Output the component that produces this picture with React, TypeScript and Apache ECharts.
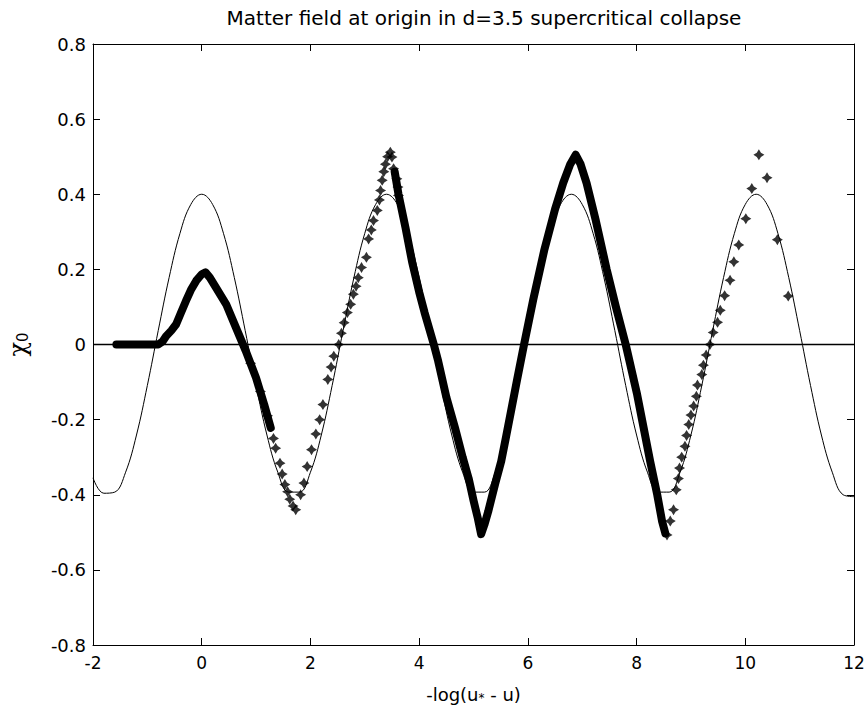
import React, { useEffect, useRef } from "react";
import * as echarts from "echarts";

const titleText = "Matter field at origin in d=3.5 supercritical collapse";
const xTicks = [-2, 0, 2, 4, 6, 8, 10, 12];
const yTicks = [-0.8, -0.6, -0.4, -0.2, 0, 0.2, 0.4, 0.6, 0.8];

// thin reference curve, sampled every 0.2 from -2 to 12
const curveX = [
  -2.0, -1.8, -1.6, -1.4, -1.2, -1.0, -0.8, -0.6, -0.4, -0.2,
  0.0, 0.2, 0.4, 0.6, 0.8, 1.0, 1.2, 1.4, 1.6, 1.8,
  2.0, 2.2, 2.4, 2.6, 2.8, 3.0, 3.2, 3.4, 3.6, 3.8,
  4.0, 4.2, 4.4, 4.6, 4.8, 5.0, 5.2, 5.4, 5.6, 5.8,
  6.0, 6.2, 6.4, 6.6, 6.8, 7.0, 7.2, 7.4, 7.6, 7.8,
  8.0, 8.2, 8.4, 8.6, 8.8, 9.0, 9.2, 9.4, 9.6, 9.8,
  10.0, 10.2, 10.4, 10.6, 10.8, 11.0, 11.2, 11.4, 11.6, 11.8,
  12.0,
];
const curveY = [
  -0.355, -0.396, -0.393, -0.340, -0.241, -0.109, 0.037, 0.178, 0.296, 0.373,
  0.400, 0.373, 0.296, 0.178, 0.037, -0.109, -0.241, -0.340, -0.393, -0.393,
  -0.340, -0.241, -0.109, 0.037, 0.178, 0.296, 0.373, 0.400, 0.373, 0.296,
  0.178, 0.037, -0.109, -0.241, -0.340, -0.393, -0.393, -0.340, -0.241, -0.109,
  0.037, 0.178, 0.296, 0.373, 0.400, 0.373, 0.296, 0.178, 0.037, -0.109,
  -0.241, -0.340, -0.393, -0.393, -0.340, -0.241, -0.109, 0.037, 0.178, 0.296,
  0.373, 0.400, 0.373, 0.296, 0.178, 0.037, -0.109, -0.241, -0.340, -0.400,
  -0.405,
];

// densely packed markers (drawn as a thick band)
const denseEarlyX = [-1.57, -0.80, -0.72, -0.65, -0.56, -0.47, -0.38, -0.29, -0.20, -0.10, 0.0, 0.07, 0.15, 0.26, 0.45, 0.63, 0.81, 1.0, 1.15, 1.27];
const denseEarlyY = [0.0, 0.0, 0.008, 0.023, 0.037, 0.054, 0.085, 0.116, 0.145, 0.170, 0.187, 0.192, 0.178, 0.152, 0.107, 0.045, -0.017, -0.089, -0.160, -0.222];

const denseMidX = [
  3.55, 3.62, 3.75, 3.87, 4.0, 4.1, 4.27, 4.35, 4.5, 4.66, 4.8, 4.91, 5.0, 5.08, 5.14,
  5.2, 5.27, 5.4, 5.51, 5.6, 5.69, 5.8, 5.93, 6.1, 6.3, 6.5, 6.65, 6.78, 6.88,
  6.97, 7.08, 7.25, 7.45, 7.62, 7.8, 8.01, 8.13, 8.25, 8.38, 8.47, 8.53,
];
const denseMidY = [
  0.46, 0.40, 0.31, 0.22, 0.14, 0.085, 0.0, -0.044, -0.14, -0.222, -0.30, -0.356, -0.415, -0.463, -0.505,
  -0.48, -0.445, -0.37, -0.311, -0.245, -0.178, -0.095, 0.0, 0.12, 0.25, 0.36, 0.43, 0.48, 0.505,
  0.48, 0.43, 0.33, 0.2, 0.1, 0.0, -0.133, -0.222, -0.311, -0.40, -0.471, -0.503,
];

// individually visible markers
const markerX = [
  0.9, 1.08, 1.21, 1.32, 1.36, 1.44, 1.48, 1.53, 1.58, 1.62, 1.68, 1.73,
  1.82, 1.88, 1.94, 2.02, 2.10, 2.17, 2.23, 2.32, 2.38, 2.43, 2.52, 2.57, 2.62, 2.68,
  2.74, 2.79, 2.84, 2.88, 2.94, 3.03, 3.07, 3.12, 3.16, 3.23, 3.27, 3.29, 3.32, 3.35,
  3.38, 3.42, 3.47, 3.50, 3.53, 3.59, 3.61, 3.62,
  8.56, 8.62, 8.68, 8.73, 8.77, 8.79, 8.83, 8.89, 8.92, 8.96, 9.0, 9.05, 9.1, 9.12,
  9.2, 9.23, 9.28, 9.35, 9.41, 9.49, 9.54, 9.62, 9.72, 9.79, 9.88, 10.01, 10.12,
  10.25, 10.40, 10.59, 10.79,
];
const markerY = [
  -0.05, -0.125, -0.19, -0.25, -0.276, -0.316, -0.345, -0.373, -0.392, -0.412, -0.43, -0.44,
  -0.40, -0.369, -0.325, -0.28, -0.238, -0.20, -0.16, -0.093, -0.06, -0.031, 0.0, 0.03, 0.058, 0.085,
  0.107, 0.134, 0.155, 0.178, 0.205, 0.232, 0.281, 0.305, 0.33, 0.357, 0.385, 0.41, 0.437, 0.46,
  0.48, 0.50, 0.512, 0.499, 0.468, 0.441, 0.419, 0.397,
  -0.507, -0.47, -0.44, -0.387, -0.357, -0.329, -0.30, -0.271, -0.242, -0.213, -0.188, -0.164, -0.138, -0.108,
  -0.08, -0.055, -0.028, 0.0, 0.032, 0.059, 0.091, 0.130, 0.171, 0.22, 0.265, 0.335, 0.415,
  0.505, 0.444, 0.279, 0.129,
];

const zip = (xs: number[], ys: number[]) => xs.map((x, i) => [x, ys[i]]);
const FONT = "'DejaVu Sans', sans-serif";
const STAR = "path://M5,0 L6.9,3.1 L10,5 L6.9,6.9 L5,10 L3.1,6.9 L0,5 L3.1,3.1 Z";

export default function App() {
  const ref = useRef<HTMLDivElement>(null);
  useEffect(() => {
    if (!ref.current) return;
    const chart = echarts.init(ref.current, undefined, { renderer: "svg" });
    const fmt = (v: number) => String(Number(v.toFixed(1)));
    const axisCommon = {
      axisLine: { show: true, onZero: false, lineStyle: { color: "#000", width: 1 } },
      axisTick: { show: true, inside: true, length: 7, lineStyle: { color: "#000" } },
      splitLine: { show: false },
    };
    chart.setOption({
      animation: false,
      backgroundColor: "#fff",
      title: {
        text: titleText,
        left: 479,
        textAlign: "center",
        top: 3,
        textStyle: { fontFamily: FONT, fontSize: 20, fontWeight: "normal", color: "#000" },
      },
      grid: { left: 93, right: 12, top: 44, bottom: 63, containLabel: false, outerBoundsMode: "none" },
      xAxis: [
        {
          type: "value",
          min: xTicks[0],
          max: xTicks[xTicks.length - 1],
          interval: 2,
          position: "bottom",
          ...axisCommon,
          axisLabel: { color: "#000", fontFamily: FONT, fontSize: 17, margin: 9, formatter: fmt },
          name: "-log(u{s|*} - u)",
          nameLocation: "middle",
          nameGap: 39,
          nameTextStyle: {
            color: "#000",
            fontFamily: FONT,
            fontSize: 18,
            rich: { s: { fontSize: 12, verticalAlign: "bottom", padding: [8, 0, 0, 0], fontFamily: FONT, color: "#000" } },
          },
        },
        {
          type: "value",
          min: xTicks[0],
          max: xTicks[xTicks.length - 1],
          interval: 2,
          position: "top",
          ...axisCommon,
          axisLabel: { show: false },
        },
      ],
      yAxis: [
        {
          type: "value",
          min: yTicks[0],
          max: yTicks[yTicks.length - 1],
          interval: 0.2,
          position: "left",
          ...axisCommon,
          axisLabel: { color: "#000", fontFamily: FONT, fontSize: 18, margin: 7, formatter: fmt },
          name: "{a|χ}{b|0}",
          nameLocation: "middle",
          nameRotate: 90,
          nameGap: 63,
          nameTextStyle: {
            rich: {
              a: { fontSize: 24, fontFamily: "'DejaVu Serif', serif", color: "#000" },
              b: { fontSize: 15, fontFamily: FONT, color: "#000", padding: [9, 0, 0, 0] },
            },
          },
        },
        {
          type: "value",
          min: yTicks[0],
          max: yTicks[yTicks.length - 1],
          interval: 0.2,
          position: "right",
          ...axisCommon,
          axisLabel: { show: false },
        },
      ],
      series: [
        {
          name: "curve",
          type: "line",
          data: zip(curveX, curveY),
          smooth: 0.4,
          showSymbol: false,
          lineStyle: { color: "#000", width: 1 },
          z: 2,
          markLine: {
            silent: true,
            symbol: "none",
            label: { show: false },
            lineStyle: { color: "#000", width: 1.3, type: "solid" },
            data: [{ yAxis: 0 }],
          },
        },
        {
          name: "denseEarly",
          type: "line",
          data: zip(denseEarlyX, denseEarlyY),
          showSymbol: false,
          lineStyle: { color: "#000", width: 8, cap: "round", join: "round" },
          z: 3,
        },
        {
          name: "denseMid",
          type: "line",
          data: zip(denseMidX, denseMidY),
          showSymbol: false,
          lineStyle: { color: "#000", width: 8, cap: "round", join: "round" },
          z: 3,
        },
        {
          name: "markers",
          type: "scatter",
          data: zip(markerX, markerY),
          symbol: STAR,
          symbolSize: 11,
          itemStyle: { color: "#000" },
          z: 4,
        },
      ],
    });
    return () => chart.dispose();
  }, []);
  return <div ref={ref} style={{ width: 866, height: 708, position: "absolute", left: 0, top: 0 }} />;
}
